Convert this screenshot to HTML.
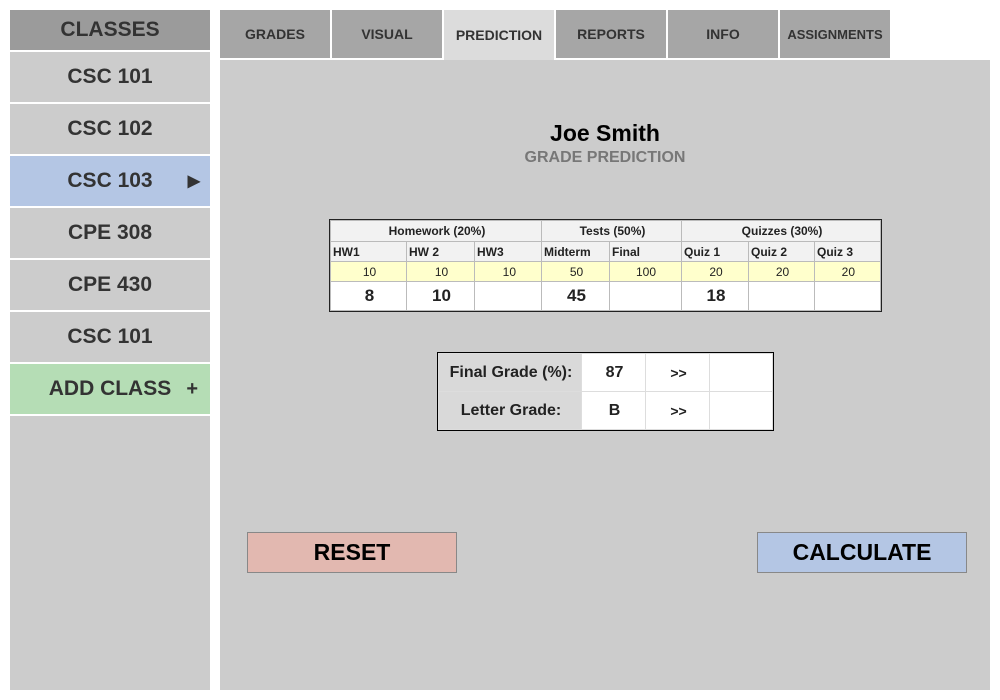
<!DOCTYPE html><html><head><style>
body{margin:0;width:1000px;height:700px;background:#fff;font-family:"Liberation Sans",sans-serif;position:relative;overflow:hidden}
.a{position:absolute;box-sizing:border-box}
.s{left:10px;width:200px;height:50px;background:#cccccc;color:#333;font-weight:bold;font-size:21px;display:flex;align-items:center;justify-content:center}
.t{top:10px;height:48px;width:110px;background:#a6a6a6;color:#333;font-weight:bold;font-size:14px;display:flex;align-items:center;justify-content:center}
table{border-collapse:collapse;position:absolute;table-layout:fixed}
td{border:1px solid #bbb;padding:0 0 0 2px;font-size:12px;color:#222;overflow:hidden;white-space:nowrap}
</style></head><body>
<div class="a s" style="top:10px;height:40px;background:#9b9b9b">CLASSES</div>
<div class="a s" style="top:52px">CSC 101</div>
<div class="a s" style="top:104px">CSC 102</div>
<div class="a s" style="top:156px;background:#b4c6e4">CSC 103<span style="position:absolute;right:10px;font-size:16px">▶</span></div>
<div class="a s" style="top:208px">CPE 308</div>
<div class="a s" style="top:260px">CPE 430</div>
<div class="a s" style="top:312px">CSC 101</div>
<div class="a s" style="top:364px;background:#b5ddb5">ADD CLASS<span style="position:absolute;right:12px;font-size:20px">+</span></div>
<div class="a" style="left:10px;top:416px;width:200px;height:274px;background:#cccccc"></div>
<div class="a" style="left:220px;top:60px;width:770px;height:630px;background:#cccccc"></div>
<div class="a t" style="left:220px">GRADES</div>
<div class="a t" style="left:332px">VISUAL</div>
<div class="a t" style="left:444px;height:50px;background:#dcdcdc">PREDICTION</div>
<div class="a t" style="left:556px">REPORTS</div>
<div class="a t" style="left:668px">INFO</div>
<div class="a t" style="left:780px;font-size:13px">ASSIGNMENTS</div>
<div class="a" style="left:220px;top:120px;width:770px;text-align:center;font-weight:bold;font-size:23px;color:#000">Joe Smith</div>
<div class="a" style="left:220px;top:149px;width:770px;text-align:center;font-weight:bold;font-size:16px;color:#777">GRADE PREDICTION</div>
<table style="left:330px;top:220px;width:550px;outline:1px solid #222">
<colgroup><col style="width:76px"><col style="width:68px"><col style="width:67px"><col style="width:68px"><col style="width:72px"><col style="width:67px"><col style="width:66px"><col style="width:66px"></colgroup>
<tr style="height:21px;background:#f2f2f2;color:#333;font-weight:bold"><td colspan=3 style="text-align:center">Homework (20%)</td><td colspan=2 style="text-align:center">Tests (50%)</td><td colspan=3 style="text-align:center">Quizzes (30%)</td></tr>
<tr style="height:20px;background:#f2f2f2;font-weight:bold"><td>HW1</td><td>HW 2</td><td>HW3</td><td>Midterm</td><td>Final</td><td>Quiz 1</td><td>Quiz 2</td><td>Quiz 3</td></tr>
<tr style="height:20px;background:#ffffcc"><td style="text-align:center">10</td><td style="text-align:center">10</td><td style="text-align:right;padding-right:25px">10</td><td style="text-align:center">50</td><td style="text-align:right;padding-right:25px">100</td><td style="text-align:center">20</td><td style="text-align:center">20</td><td style="text-align:right;padding-right:25px">20</td></tr>
<tr style="height:29px;background:#fff;font-weight:bold;color:#000"><td style="text-align:center;font-size:17px">8</td><td style="text-align:center;font-size:17px">10</td><td></td><td style="text-align:center;font-size:17px">45</td><td></td><td style="text-align:center;font-size:17px">18</td><td></td><td></td></tr>
</table>
<table style="left:438px;top:353px;width:334px;outline:1px solid #000">
<colgroup><col style="width:143px"><col style="width:64px"><col style="width:64px"><col style="width:63px"></colgroup>
<tr style="height:38px"><td style="background:#d9d9d9;border-color:#ddd;text-align:center;font-weight:bold;font-size:16px">Final Grade (%):</td><td style="background:#fff;border-color:#ddd;text-align:center;font-weight:bold;font-size:16px">87</td><td style="background:#fff;border-color:#ddd;text-align:center;font-weight:bold;font-size:14px">&gt;&gt;</td><td style="background:#fff;border-color:#ddd"></td></tr>
<tr style="height:38px"><td style="background:#d9d9d9;border-color:#ddd;text-align:center;font-weight:bold;font-size:16px">Letter Grade:</td><td style="background:#fff;border-color:#ddd;text-align:center;font-weight:bold;font-size:16px">B</td><td style="background:#fff;border-color:#ddd;text-align:center;font-weight:bold;font-size:14px">&gt;&gt;</td><td style="background:#fff;border-color:#ddd"></td></tr>
</table>
<div class="a" style="left:247px;top:532px;width:210px;height:41px;background:#e2b8b0;border:1px solid #888;display:flex;align-items:center;justify-content:center;font-weight:bold;font-size:23px;color:#000">RESET</div>
<div class="a" style="left:757px;top:532px;width:210px;height:41px;background:#b4c6e4;border:1px solid #888;display:flex;align-items:center;justify-content:center;font-weight:bold;font-size:23px;color:#000">CALCULATE</div>
</body></html>
